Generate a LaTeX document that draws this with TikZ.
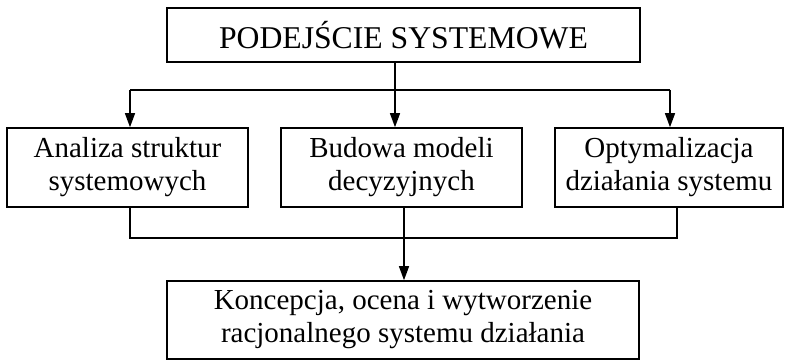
\documentclass[tikz,border=0pt]{standalone}
\usepackage{fontspec}
\setmainfont{Liberation Serif}
\usetikzlibrary{arrows.meta}
\begin{document}
\begin{tikzpicture}[x=1pt,y=-1pt,
  box/.style={draw, line width=1.6pt, rectangle, inner sep=0pt, align=center,
    font=\fontsize{29}{33}\selectfont},
  conn/.style={line width=1.4pt},
  arr/.style={conn, -{Triangle[length=14pt,width=10pt]}}]
  \useasboundingbox (0,0) rectangle (785,361);

  % head of the scheme
  \node[box, minimum width=473pt, minimum height=54pt,
        font=\fontsize{31.7}{36}\selectfont] (top) at (403.5,35) {PODEJŚCIE SYSTEMOWE};

  % three component fields
  \node[box, minimum width=241pt, minimum height=79pt] (ana) at (127.5,167.5)
    {Analiza struktur\\systemowych};
  \node[box, minimum width=241pt, minimum height=79pt] (bud) at (401.5,167.5)
    {Budowa modeli\\decyzyjnych};
  \node[box, minimum width=228pt, minimum height=79pt] (opt) at (669,167.5)
    {Optymalizacja\\działania systemu};

  % result
  \node[box, minimum width=472pt, minimum height=78pt] (res) at (403,320)
    {Koncepcja, ocena i wytworzenie\\racjonalnego systemu działania};

  % distribution bar under the head
  \coordinate (splitL) at (130,90);
  \coordinate (splitR) at (670,90);
  \draw[conn] (splitL) -- (splitR);
  \draw[arr] ([xshift=-6.5pt]top.south -| bud.north) -- ([xshift=-6.5pt]bud.north);
  \draw[arr] (splitL) -- ([xshift=2.5pt]ana.north);
  \draw[arr] (splitR) -- ([xshift=1pt]opt.north);

  % collecting bar above the result
  \coordinate (joinL) at (130,238);
  \coordinate (joinR) at (677,238);
  \draw[conn] ([xshift=2.5pt]ana.south) -- (joinL) -- (joinR) -- ([xshift=8pt]opt.south);
  \draw[arr] ([xshift=2.5pt]bud.south) -- ([xshift=1pt]res.north);
\end{tikzpicture}
\end{document}
